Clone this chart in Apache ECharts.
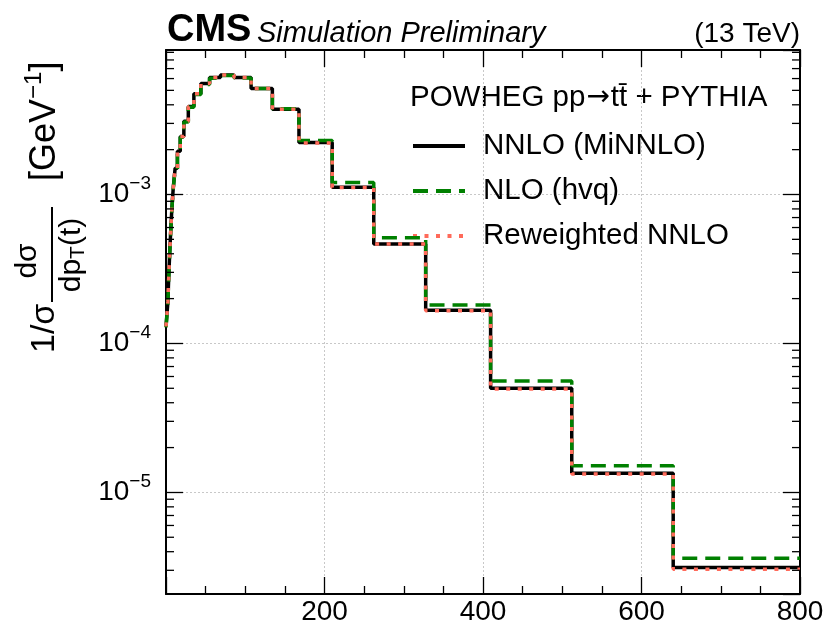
<!DOCTYPE html>
<html><head><meta charset="utf-8">
<script src="https://cdn.jsdelivr.net/npm/echarts@6/dist/echarts.min.js"></script>
<style>html,body{margin:0;padding:0;background:#fff}#c{width:826px;height:629px}</style>
</head><body><div id="c"></div>
<script>
// ---- data ----
const binEdges = [0, 2.42, 3.02, 3.78, 4.72, 5.90, 7.38, 9.22, 11.53, 14.41, 18.01, 22.52, 28.15, 35.18, 43.98, 54.98, 68.72, 85.90, 107.37, 134.22, 167.77, 209.72, 262.14, 327.68, 409.6, 512, 640, 800];
const nnloMiNNLO = [1.3e-4, 1.9e-4, 2.4e-4, 3.1e-4, 4.1e-4, 5.6e-4, 8.0e-4, 1.12e-3, 1.5e-3, 1.95e-3, 2.45e-3, 3.1e-3, 3.9e-3, 4.75e-3, 5.55e-3, 6.1e-3, 6.35e-3, 6.1e-3, 5.15e-3, 3.73e-3, 2.23e-3, 1.12e-3, 4.66e-4, 1.67e-4, 5.0e-5, 1.345e-5, 3.13e-6];
const nloHvq = [1.28e-4, 1.87e-4, 2.37e-4, 3.05e-4, 4.05e-4, 5.5e-4, 7.9e-4, 1.10e-3, 1.48e-3, 1.92e-3, 2.42e-3, 3.06e-3, 3.85e-3, 4.69e-3, 5.48e-3, 6.03e-3, 6.28e-3, 6.05e-3, 5.14e-3, 3.76e-3, 2.30e-3, 1.205e-3, 5.13e-4, 1.81e-4, 5.6e-5, 1.51e-5, 3.61e-6];
const reweightedNNLO = [1.3e-4, 1.9e-4, 2.4e-4, 3.1e-4, 4.1e-4, 5.6e-4, 8.0e-4, 1.12e-3, 1.5e-3, 1.95e-3, 2.45e-3, 3.1e-3, 3.9e-3, 4.75e-3, 5.55e-3, 6.1e-3, 6.35e-3, 6.1e-3, 5.15e-3, 3.73e-3, 2.22e-3, 1.115e-3, 4.65e-4, 1.66e-4, 4.95e-5, 1.33e-5, 3.05e-6];
const seriesNames = ['NNLO (MiNNLO)', 'NLO (hvq)', 'Reweighted NNLO'];
const xTickLabels = ['200', '400', '600', '800'];
const yTickExponents = [-5, -4, -3];
const yMinorMultipliers = [2, 3, 4, 5, 6, 7, 8, 9];
const yMinorDecades = [-6, -5, -4, -3];

// ---- layout constants ----
const X_MIN = 0, X_MAX = 800;
const Y_MIN = 2.08e-6, Y_MAX = 9.33e-3;
const FONT = 'Liberation Sans, Arial, Helvetica, sans-serif';

function stepData(vals) {
  const d = vals.map((v, i) => [binEdges[i], v]);
  d.push([binEdges[binEdges.length - 1], vals[vals.length - 1]]);
  return d;
}
const minorVals = [];
yMinorDecades.forEach(e => yMinorMultipliers.forEach(m => {
  const v = m * Math.pow(10, e);
  if (v > Y_MIN && v < Y_MAX) minorVals.push([X_MIN, v]);
}));

const chart = echarts.init(document.getElementById('c'), null, {renderer: 'canvas'});
const gridLine = {show: true, lineStyle: {color: '#c8c8c8', type: [2, 2], width: 1}};
const xBase = {
  type: 'value', min: X_MIN, max: X_MAX, interval: 200,
  axisLine: {show: true, onZero: false, lineStyle: {color: '#000', width: 2}},
  axisTick: {show: true, inside: true, length: 17, lineStyle: {color: '#000', width: 1.3}},
  minorTick: {show: true, splitNumber: 4, length: 8, lineStyle: {color: '#000', width: 1.3}},
};
const yBase = {
  type: 'log', logBase: 10, min: Y_MIN, max: Y_MAX,
  axisLine: {show: true, onZero: false, lineStyle: {color: '#000', width: 2}},
  axisTick: {show: true, inside: true, length: 17, lineStyle: {color: '#000', width: 1.3}},
};

const option = {
  animation: false,
  backgroundColor: '#fff',
  grid: {left: 166, right: 26, top: 50, bottom: 35, containLabel: false, outerBoundsMode: 'none'},
  xAxis: [
    Object.assign({}, xBase, {
      position: 'bottom', splitLine: gridLine,
      axisLabel: {show: true, margin: 4, fontSize: 28, fontFamily: FONT, color: '#000',
        showMinLabel: true, showMaxLabel: true,
        formatter: v => xTickLabels.includes(String(v)) ? String(v) : ''}
    }),
    Object.assign({}, xBase, {position: 'top', splitLine: {show: false}, axisLabel: {show: false}})
  ],
  yAxis: [
    Object.assign({}, yBase, {
      position: 'left', splitLine: gridLine,
      axisLabel: {show: true, margin: 15, color: '#000', showMinLabel: false, showMaxLabel: false,
        formatter: v => {
          const l = Math.log10(v), e = Math.round(l);
          if (Math.abs(l - e) > 1e-6 || !yTickExponents.includes(e)) return '';
          return '{b|10}{s|\u2212' + Math.abs(e) + '}';
        },
        rich: {
          b: {fontSize: 28, fontFamily: FONT, color: '#000', lineHeight: 40},
          s: {fontSize: 19, fontFamily: FONT, color: '#000', lineHeight: 19, verticalAlign: 'top'}
        }}
    }),
    Object.assign({}, yBase, {position: 'right', splitLine: {show: false}, axisLabel: {show: false}})
  ],
  legend: {
    show: true, orient: 'vertical', left: 406, top: 126, itemWidth: 52, itemHeight: 14, itemGap: 15,
    selectedMode: false, data: seriesNames,
    itemStyle: {opacity: 0, borderWidth: 0},
    lineStyle: {width: 4},
    textStyle: {fontSize: 29.5, fontFamily: FONT, color: '#000', lineHeight: 30, padding: [0, 0, 0, 13]}
  },
  series: [
    {name: seriesNames[0], type: 'line', step: 'end', symbol: 'none', showSymbol: false, data: stepData(nnloMiNNLO), z: 3,
      lineStyle: {color: '#000', width: 3.5}, itemStyle: {color: '#000'}},
    {name: seriesNames[1], type: 'line', step: 'end', symbol: 'none', showSymbol: false, data: stepData(nloHvq), z: 4,
      lineStyle: {color: '#008000', width: 3.5, type: [15, 8]}, itemStyle: {color: '#008000'}},
    {name: seriesNames[2], type: 'line', step: 'end', symbol: 'none', showSymbol: false, data: stepData(reweightedNNLO), z: 5,
      lineStyle: {color: '#ff6a5a', width: 3.5, type: [4, 7.5]}, itemStyle: {color: '#ff6a5a'}},
    {name: 'minorTicks', type: 'custom', data: minorVals, silent: true, z: 6, clip: false,
      renderItem: (params, api) => {
        const v = api.value(1);
        const pL = api.coord([X_MIN, v]);
        const pR = api.coord([X_MAX, v]);
        const st = {stroke: '#000', lineWidth: 1.3};
        return {type: 'group', children: [
          {type: 'line', shape: {x1: pL[0], y1: pL[1], x2: pL[0] + 8, y2: pL[1]}, style: st},
          {type: 'line', shape: {x1: pR[0] - 8, y1: pR[1], x2: pR[0], y2: pR[1]}, style: st}
        ]};
      }}
  ],
  graphic: [
    {type: 'text', x: 167, y: 31, style: {text: 'CMS', fontSize: 38, fontWeight: 'bold', fontFamily: FONT, fill: '#000', align: 'left', verticalAlign: 'middle'}},
    {type: 'text', x: 257, y: 34, style: {text: 'Simulation Preliminary', fontSize: 29, fontStyle: 'italic', fontFamily: FONT, fill: '#000', align: 'left', verticalAlign: 'middle'}},
    {type: 'text', x: 800, y: 34, style: {text: '(13 TeV)', fontSize: 28, fontFamily: FONT, fill: '#000', align: 'right', verticalAlign: 'middle'}},
    {type: 'text', x: 410, y: 98, style: {text: '{t|POWHEG pp}{a|\u2192}{t|tt\u0304 + PYTHIA}', align: 'left', verticalAlign: 'middle',
      rich: {t: {fontSize: 29.5, fontFamily: FONT, fill: '#000', color: '#000', lineHeight: 34},
             a: {fontSize: 28, fontFamily: 'DejaVu Sans', fill: '#000', color: '#000', lineHeight: 34, padding: [0, 1, 0, 1]}}}},
    {type: 'group', x: 0, y: 353, rotation: Math.PI / 2, children: [
      {type: 'text', x: 0, y: 45, style: {text: '1/\u03c3', fontSize: 34, fontFamily: FONT, fill: '#000', align: 'left', verticalAlign: 'middle'}},
      {type: 'text', x: 92, y: 28, style: {text: 'd\u03c3', fontSize: 30, fontFamily: FONT, fill: '#000', align: 'center', verticalAlign: 'middle'}},
      {type: 'line', shape: {x1: 51, y1: 52, x2: 146, y2: 52}, style: {stroke: '#000', lineWidth: 2}},
      {type: 'text', x: 98, y: 72, style: {text: '{n|dp}{u|T}{n|(t)}', align: 'center', verticalAlign: 'middle',
        rich: {n: {fontSize: 30, fontFamily: FONT, fill: '#000', color: '#000', lineHeight: 34},
               u: {fontSize: 21, fontFamily: FONT, fill: '#000', color: '#000', lineHeight: 21, verticalAlign: 'bottom'}}}},
      {type: 'text', x: 172, y: 45, style: {text: '{n|[GeV}{s|\u22121}{n|]}', align: 'left', verticalAlign: 'middle',
        rich: {n: {fontSize: 36, fontFamily: FONT, fill: '#000', color: '#000', lineHeight: 46},
               s: {fontSize: 24, fontFamily: FONT, fill: '#000', color: '#000', lineHeight: 24, verticalAlign: 'top'}}}}
    ]}
  ]
};
chart.setOption(option);
</script></body></html>
